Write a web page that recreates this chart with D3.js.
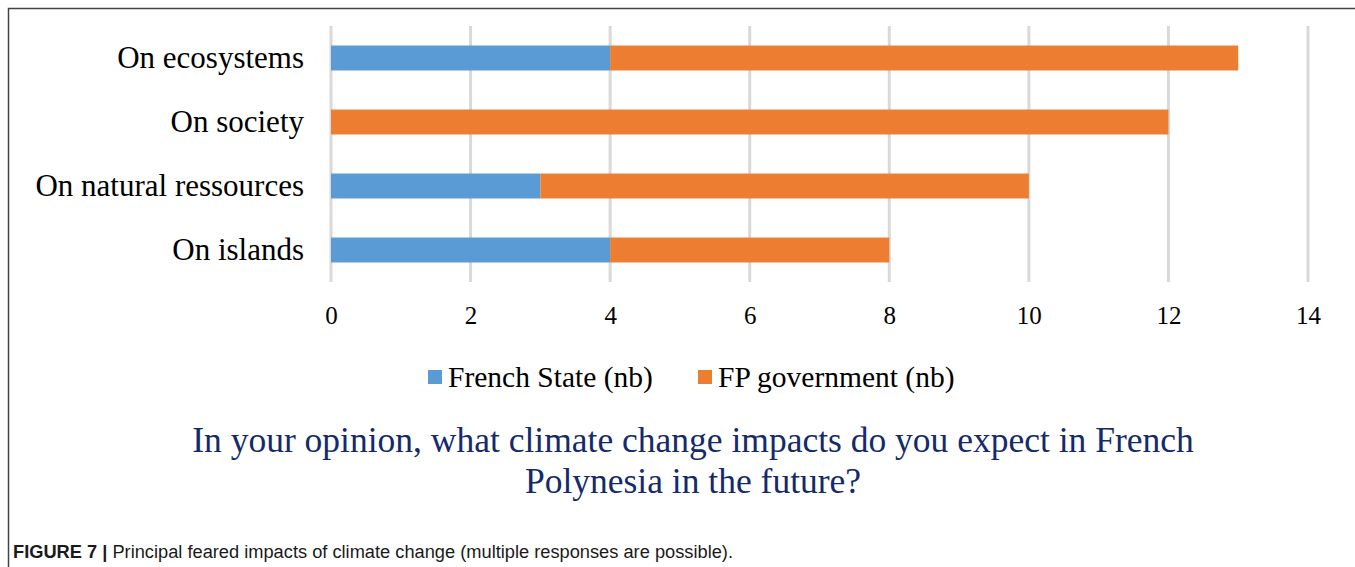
<!DOCTYPE html>
<html>
<head>
<meta charset="utf-8">
<script src="https://cdn.jsdelivr.net/npm/d3@7"></script>
<style>
  html, body { margin: 0; padding: 0; background: #fff; }
  svg { display: block; }
</style>
</head>
<body>
<script>
const categories = ["On ecosystems", "On society", "On natural ressources", "On islands"];
const frenchState = [4, 0, 3, 4];
const fpGovernment = [9, 12, 7, 4];
const seriesNames = ["French State (nb)", "FP government (nb)"];
const xTicks = [0, 2, 4, 6, 8, 10, 12, 14];
const titleLines = ["In your opinion, what climate change impacts do you expect in French", "Polynesia in the future?"];
const captionBold = "FIGURE 7 |";
const captionText = " Principal feared impacts of climate change (multiple responses are possible).";

const W = 1355, H = 567;
const colors = ["#5b9bd5", "#ed7d31"];
const serif = "'Liberation Serif', 'Times New Roman', serif";

const svg = d3.select("body").append("svg").attr("width", W).attr("height", H);

// frame
svg.append("path")
  .attr("d", `M8.5,${H} L8.5,8.5 L${W},8.5`)
  .attr("fill", "none").attr("stroke", "#444").attr("stroke-width", 1.5);

const x = d3.scaleLinear().domain([0, 14]).range([331, 1308]);
const y = d3.scaleBand().domain(categories).range([26, 282]).paddingInner(0.61).paddingOuter(0.305);

// gridlines
svg.append("g").selectAll("line").data(xTicks).join("line")
  .attr("x1", d => x(d)).attr("x2", d => x(d))
  .attr("y1", 26).attr("y2", 282)
  .attr("stroke", "#d9d9d9").attr("stroke-width", 3);

const stackData = categories.map((c, i) => ({cat: c, fs: frenchState[i], fp: fpGovernment[i]}));
const stacked = d3.stack().keys(["fs", "fp"])(stackData);

svg.append("g").selectAll("g").data(stacked).join("g")
  .attr("fill", (d, i) => colors[i])
  .selectAll("rect").data(d => d).join("rect")
  .attr("x", d => x(d[0]))
  .attr("width", d => Math.max(0, x(d[1]) - x(d[0])))
  .attr("y", d => y(d.data.cat))
  .attr("height", y.bandwidth());

// x axis labels
const xAxis = d3.axisBottom(x).tickValues(xTicks).tickSize(0).tickPadding(0);
const gx = svg.append("g").attr("transform", "translate(0,306)").call(xAxis);
gx.select(".domain").remove();
gx.selectAll("text").attr("font-family", serif).attr("font-size", 25).attr("fill", "#000").attr("dy", "0.71em");

// y axis labels
const yAxis = d3.axisLeft(y).tickSize(0).tickPadding(0);
const gy = svg.append("g").attr("transform", "translate(304,0)").call(yAxis);
gy.select(".domain").remove();
gy.selectAll("text").attr("font-family", serif).attr("font-size", 31).attr("fill", "#000").attr("dy", "0.32em");

// legend
const legend = svg.append("g").attr("font-family", serif).attr("font-size", 29.5);
const legItems = [{x: 428, name: seriesNames[0], c: colors[0]}, {x: 698, name: seriesNames[1], c: colors[1]}];
legItems.forEach(it => {
  legend.append("rect").attr("x", it.x).attr("y", 370).attr("width", 14).attr("height", 14).attr("fill", it.c);
  legend.append("text").attr("x", it.x + 20).attr("y", 387).attr("fill", "#000").text(it.name);
});

// title
const title = svg.append("g").attr("font-family", serif).attr("font-size", 35.5).attr("fill", "#142a6b").attr("text-anchor", "middle");
title.append("text").attr("x", 693).attr("y", 452).text(titleLines[0]);
title.append("text").attr("x", 693).attr("y", 493).text(titleLines[1]);

// caption
const cap = svg.append("text").attr("x", 13).attr("y", 558)
  .attr("font-family", "'Liberation Sans Narrow', 'Liberation Sans', Arial, sans-serif").attr("font-size", 18).attr("fill", "#1a1a1a")
  .attr("textLength", 720).attr("lengthAdjust", "spacingAndGlyphs");
cap.append("tspan").attr("font-weight", "bold").text(captionBold);
cap.append("tspan").text(captionText);
</script>
</body>
</html>
